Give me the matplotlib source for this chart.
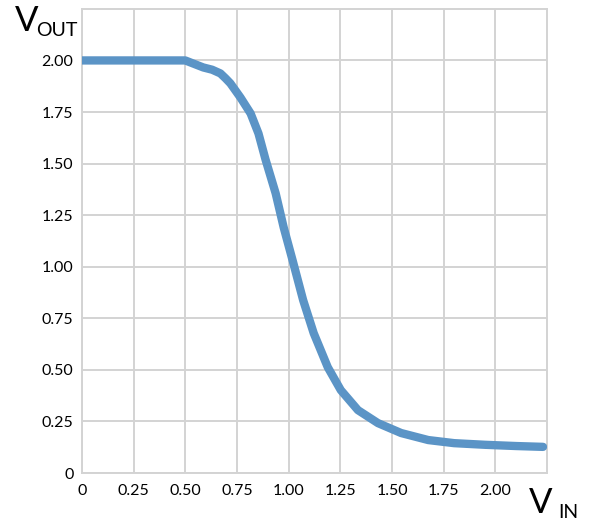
import matplotlib.pyplot as plt

# curva de transferência do inversor
v_in = [0, 0.5, 0.587, 0.63, 0.67, 0.695, 0.718, 0.767, 0.816, 0.854, 0.888, 0.937, 0.976,
        1.019, 1.07, 1.121, 1.189, 1.252, 1.335, 1.432, 1.544, 1.675, 1.8, 1.95, 2.1, 2.23]
v_out = [2.0, 2.0, 1.966, 1.955, 1.937, 1.913, 1.889, 1.82, 1.743, 1.646, 1.52, 1.356, 1.19,
         1.031, 0.838, 0.678, 0.513, 0.402, 0.305, 0.242, 0.194, 0.16, 0.145, 0.137, 0.131, 0.127]

ticks = [0, 0.25, 0.5, 0.75, 1.0, 1.25, 1.5, 1.75, 2.0]
tick_labels = ['0', '0.25', '0.50', '0.75', '1.00', '1.25', '1.50', '1.75', '2.00']

plt.rcParams['font.family'] = ['Lato', 'DejaVu Sans']

fig = plt.figure(figsize=(5.89, 5.21), dpi=100)
ax = fig.add_axes([0.139, 0.092, 0.79, 0.891])

ax.plot(v_in, v_out, color='#5b94c6', linewidth=6, solid_capstyle='round',
        solid_joinstyle='round', zorder=3)

ax.set_xlim(0, 2.25)
ax.set_ylim(0, 2.25)
ax.set_xticks(ticks)
ax.set_xticklabels(tick_labels)
ax.set_yticks(ticks)
ax.set_yticklabels(tick_labels)
ax.tick_params(length=0, labelsize=11.5, pad=6)
ax.tick_params(axis='x', pad=8)
ax.grid(True, color='#d3d3d3', linewidth=1.4)
for s in ax.spines.values():
    s.set_color('#d3d3d3')
    s.set_linewidth(1.4)

# rótulos dos eixos
fig.text(0.025, 0.94, 'V', fontsize=25)
fig.text(0.062, 0.93, 'OUT', fontsize=14)
fig.text(0.898, 0.015, 'V', fontsize=25)
fig.text(0.947, 0.006, 'IN', fontsize=14)

plt.savefig('out.png', dpi=100)
